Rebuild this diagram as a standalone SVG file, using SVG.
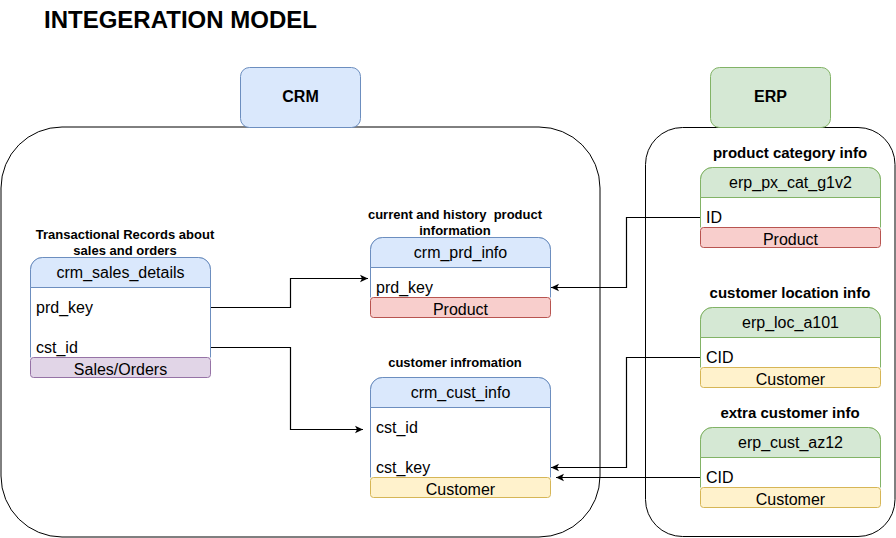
<svg xmlns="http://www.w3.org/2000/svg" width="896" height="538" viewBox="0 0 896 538">
<style>
text{font-family:"Liberation Sans",Arial,sans-serif;fill:#000}
.title{font-size:24px;font-weight:bold}
.grp{font-size:16px;font-weight:bold;text-anchor:middle}
.lbl{font-size:13px;font-weight:bold;text-anchor:middle;white-space:pre}
.lbl2{font-size:15px;font-weight:bold;text-anchor:middle}
.hd{font-size:16px;text-anchor:middle}
.row{font-size:16px}
.cat{font-size:16px;text-anchor:middle}
.cont{fill:#fff;stroke:#000;stroke-width:1}
.crmb{fill:#dae8fc;stroke:#6c8ebf}
.erpb{fill:#d5e8d4;stroke:#82b366}
.body{fill:#fff}
.crm .body,.crm .sep{stroke:#6c8ebf}
.erp .body,.erp .sep{stroke:#82b366}
.crm .head{fill:#dae8fc;stroke:#6c8ebf}
.erp .head{fill:#d5e8d4;stroke:#82b366}
.prod{fill:#f8cecc;stroke:#b85450}
.cust{fill:#fff2cc;stroke:#d6b656}
.sales{fill:#e1d5e7;stroke:#9673a6}
.conn path{fill:none;stroke:#000;stroke-width:1.2}
</style>
<defs>
<marker id="arr" markerUnits="userSpaceOnUse" markerWidth="10" markerHeight="10" refX="9" refY="5" orient="auto">
<path d="M1,1.2 L9,5 L1,8.8 L3,5 z" fill="#000" stroke="none"/>
</marker>
</defs>
<rect width="896" height="538" fill="#fff"/>
<text class="title" x="44" y="28">INTEGERATION MODEL</text>

<g id="crm-container"><rect class="cont" x="1" y="127" width="599" height="410" rx="61" ry="61"/></g>
<g id="erp-container"><rect class="cont" x="645.5" y="127.5" width="249.5" height="409" rx="37" ry="37"/></g>

<g id="crm-label"><rect class="crmb" x="240.5" y="67.5" width="120" height="60" rx="9"/><text class="grp" x="300.5" y="102">CRM</text></g>
<g id="erp-label"><rect class="erpb" x="710.5" y="67.5" width="120" height="60" rx="9"/><text class="grp" x="770.5" y="102">ERP</text></g>

<g class="conn" id="connectors">
<path d="M210,307.5 H290.5 V278.5 H368" marker-end="url(#arr)"/>
<path d="M210,347.5 H290.5 V429.5 H363" marker-end="url(#arr)"/>
<path d="M700,217.5 H626.5 V287.5 H551" marker-end="url(#arr)"/>
<path d="M700,357.5 H626.5 V467.5 H551" marker-end="url(#arr)"/>
<path d="M700,477.5 H556" marker-end="url(#arr)"/>
</g>

<g id="crm_sales_details" class="crm">
<text class="lbl" x="125" y="239">Transactional Records about</text>
<text class="lbl" x="125" y="255">sales and orders</text>
<path class="body" d="M30.5,357.5 V269.5 A12,12 0 0 1 42.5,257.5 H198.5 A12,12 0 0 1 210.5,269.5 V357.5"/>
<path class="head" d="M30.5,287.5 V269.5 A12,12 0 0 1 42.5,257.5 H198.5 A12,12 0 0 1 210.5,269.5 V287.5 Z"/>
<text class="hd" x="120.5" y="278">crm_sales_details</text>
<text class="row" x="36" y="313">prd_key</text>
<text class="row" x="36" y="353">cst_id</text>
<rect class="sales" x="30.5" y="357.5" width="180" height="20" rx="3"/>
<text class="cat" x="120.5" y="375">Sales/Orders</text>
</g>

<g id="crm_prd_info" class="crm">
<text class="lbl" x="455" y="219">current and history  product</text>
<text class="lbl" x="455" y="235">information</text>
<path class="body" d="M370.5,297.5 V249.5 A12,12 0 0 1 382.5,237.5 H538.5 A12,12 0 0 1 550.5,249.5 V297.5"/>
<path class="head" d="M370.5,267.5 V249.5 A12,12 0 0 1 382.5,237.5 H538.5 A12,12 0 0 1 550.5,249.5 V267.5 Z"/>
<text class="hd" x="460.5" y="258">crm_prd_info</text>
<text class="row" x="376" y="293">prd_key</text>
<rect class="prod" x="370.5" y="297.5" width="180" height="20" rx="3"/>
<text class="cat" x="460.5" y="315">Product</text>
</g>

<g id="crm_cust_info" class="crm">
<text class="lbl" x="455" y="367">customer infromation</text>
<path class="body" d="M370.5,477.5 V389.5 A12,12 0 0 1 382.5,377.5 H538.5 A12,12 0 0 1 550.5,389.5 V477.5"/>
<path class="head" d="M370.5,407.5 V389.5 A12,12 0 0 1 382.5,377.5 H538.5 A12,12 0 0 1 550.5,389.5 V407.5 Z"/>
<text class="hd" x="460.5" y="398">crm_cust_info</text>
<text class="row" x="376" y="433">cst_id</text>
<text class="row" x="376" y="473">cst_key</text>
<rect class="cust" x="370.5" y="477.5" width="180" height="20" rx="3"/>
<text class="cat" x="460.5" y="495">Customer</text>
</g>

<g id="erp_px_cat_g1v2" class="erp">
<text class="lbl2" x="790" y="158">product category info</text>
<path class="body" d="M700.5,227.5 V179.5 A12,12 0 0 1 712.5,167.5 H868.5 A12,12 0 0 1 880.5,179.5 V227.5"/>
<path class="head" d="M700.5,197.5 V179.5 A12,12 0 0 1 712.5,167.5 H868.5 A12,12 0 0 1 880.5,179.5 V197.5 Z"/>
<text class="hd" x="790.5" y="188">erp_px_cat_g1v2</text>
<text class="row" x="706" y="223">ID</text>
<rect class="prod" x="700.5" y="227.5" width="180" height="20" rx="3"/>
<text class="cat" x="790.5" y="245">Product</text>
</g>

<g id="erp_loc_a101" class="erp">
<text class="lbl2" x="790" y="298">customer location info</text>
<path class="body" d="M700.5,367.5 V319.5 A12,12 0 0 1 712.5,307.5 H868.5 A12,12 0 0 1 880.5,319.5 V367.5"/>
<path class="head" d="M700.5,337.5 V319.5 A12,12 0 0 1 712.5,307.5 H868.5 A12,12 0 0 1 880.5,319.5 V337.5 Z"/>
<text class="hd" x="790.5" y="328">erp_loc_a101</text>
<text class="row" x="706" y="363">CID</text>
<rect class="cust" x="700.5" y="367.5" width="180" height="20" rx="3"/>
<text class="cat" x="790.5" y="385">Customer</text>
</g>

<g id="erp_cust_az12" class="erp">
<text class="lbl2" x="790" y="418">extra customer info</text>
<path class="body" d="M700.5,487.5 V439.5 A12,12 0 0 1 712.5,427.5 H868.5 A12,12 0 0 1 880.5,439.5 V487.5"/>
<path class="head" d="M700.5,457.5 V439.5 A12,12 0 0 1 712.5,427.5 H868.5 A12,12 0 0 1 880.5,439.5 V457.5 Z"/>
<text class="hd" x="790.5" y="448">erp_cust_az12</text>
<text class="row" x="706" y="483">CID</text>
<rect class="cust" x="700.5" y="487.5" width="180" height="20" rx="3"/>
<text class="cat" x="790.5" y="505">Customer</text>
</g>
</svg>
